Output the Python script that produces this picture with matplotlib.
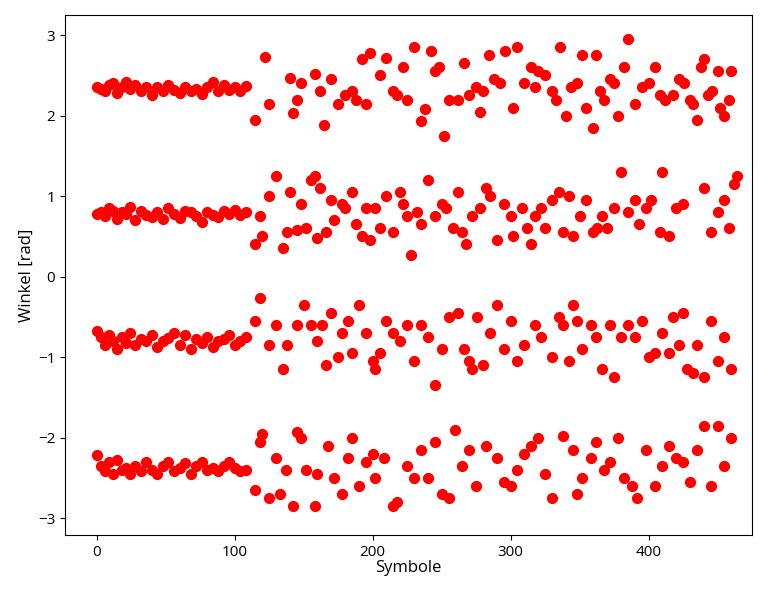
import matplotlib
matplotlib.use("Agg")
import matplotlib.pyplot as plt

early_x = [0,3,6,9,12,15,18,21,24,28,32,36,40,44,48,52,56,60,64,68,72,76,80,84,88,92,96,100,104,108]
a_early = [2.35,2.33,2.3,2.38,2.4,2.28,2.36,2.42,2.33,2.38,2.3,2.36,2.25,2.35,2.3,2.38,2.32,2.28,2.35,2.3,2.33,2.27,2.36,2.42,2.3,2.38,2.32,2.35,2.3,2.37]
b_early = [0.78,0.8,0.75,0.85,0.82,0.72,0.8,0.78,0.86,0.7,0.82,0.77,0.74,0.8,0.72,0.85,0.78,0.73,0.82,0.8,0.75,0.68,0.8,0.77,0.74,0.82,0.78,0.83,0.76,0.8]
c_early = [-0.68,-0.75,-0.85,-0.72,-0.8,-0.9,-0.75,-0.82,-0.7,-0.85,-0.78,-0.8,-0.72,-0.88,-0.8,-0.76,-0.7,-0.85,-0.72,-0.9,-0.78,-0.82,-0.75,-0.88,-0.8,-0.78,-0.72,-0.85,-0.8,-0.75]
d_early = [-2.22,-2.35,-2.42,-2.3,-2.45,-2.28,-2.4,-2.38,-2.45,-2.35,-2.42,-2.3,-2.4,-2.45,-2.35,-2.3,-2.42,-2.38,-2.32,-2.45,-2.35,-2.3,-2.4,-2.38,-2.42,-2.35,-2.3,-2.38,-2.42,-2.4]

a_late = [(115,1.95),(122,2.73),(125,2.15),(140,2.47),(142,2.03),(145,2.2),(148,2.4),(158,2.52),(162,2.3),(165,1.88),(170,2.45),(175,2.15),(180,2.25),(185,2.3),(188,2.2),(192,2.7),(195,2.15),(198,2.78),(205,2.5),(210,2.72),(215,2.3),(218,2.25),(222,2.6),(225,2.2),(230,2.85),(235,1.93),(238,2.08),(242,2.8),(245,2.55),(248,2.6),(252,1.75),(255,2.2),(262,2.2),(266,2.65),(270,2.25),(275,2.35),(278,2.05),(280,2.3),(284,2.75),(288,2.45),(292,2.4),(296,2.8),(302,2.1),(305,2.85),(310,2.4),(315,2.6),(318,2.35),(320,2.55),(325,2.5),(330,2.3),(333,2.2),(336,2.85),(340,2.0),(344,2.35),(348,2.4),(352,2.75),(355,2.1),(360,1.85),(362,2.75),(365,2.3),(368,2.2),(372,2.45),(375,2.4),(378,2.0),(382,2.6),(385,2.95),(390,2.15),(395,2.35),(400,2.4),(405,2.6),(408,2.25),(412,2.2),(418,2.25),(422,2.45),(426,2.4),(430,2.2),(432,2.15),(435,1.95),(438,2.6),(440,2.7),(443,2.25),(446,2.3),(450,2.55),(452,2.1),(455,2.0),(458,2.2),(460,2.55)]
b_late = [(115,0.4),(118,0.75),(120,0.5),(125,1.0),(130,1.25),(135,0.35),(138,0.55),(140,1.05),(145,0.58),(148,0.9),(152,0.6),(155,1.2),(158,1.25),(160,0.48),(162,1.1),(166,0.55),(170,0.95),(172,0.7),(178,0.9),(180,0.85),(185,1.05),(188,0.65),(192,0.5),(195,0.85),(198,0.45),(202,0.85),(205,0.6),(210,1.0),(215,0.55),(220,1.05),(222,0.9),(225,0.75),(228,0.27),(232,0.8),(235,0.65),(240,1.2),(245,0.75),(250,0.9),(253,0.85),(258,0.6),(262,1.05),(265,0.55),(268,0.4),(272,0.75),(278,0.85),(282,1.1),(285,1.0),(290,0.45),(295,0.9),(300,0.75),(302,0.5),(308,0.85),(312,0.6),(315,0.4),(318,0.75),(322,0.85),(325,0.6),(330,0.95),(335,1.05),(338,0.55),(342,1.0),(345,0.5),(350,0.75),(355,0.95),(360,0.55),(363,0.6),(366,0.75),(370,0.6),(375,0.85),(380,1.3),(385,0.8),(390,0.95),(393,0.65),(398,0.85),(402,0.95),(408,0.55),(410,1.3),(415,0.5),(420,0.85),(425,0.9),(440,1.1),(445,0.55),(450,0.8),(455,0.95),(458,0.6),(462,1.15),(464,1.25)]
c_late = [(115,-0.55),(118,-0.27),(125,-0.85),(130,-0.6),(135,-1.15),(138,-0.85),(145,-0.6),(150,-0.35),(155,-0.6),(160,-0.8),(163,-0.6),(166,-1.1),(170,-0.45),(175,-1.0),(178,-0.7),(182,-0.55),(185,-0.95),(190,-0.35),(195,-0.7),(200,-1.05),(202,-1.15),(205,-0.95),(210,-0.55),(215,-0.7),(220,-0.8),(225,-0.6),(230,-1.05),(235,-0.6),(240,-0.75),(245,-1.35),(250,-0.9),(255,-0.5),(262,-0.45),(266,-0.9),(270,-1.05),(272,-1.15),(276,-0.5),(280,-1.1),(285,-0.7),(290,-0.35),(295,-0.9),(300,-0.55),(305,-1.05),(310,-0.85),(318,-0.6),(322,-0.75),(330,-1.0),(335,-0.5),(338,-0.6),(342,-1.05),(345,-0.35),(348,-0.55),(352,-0.9),(358,-0.6),(362,-0.75),(366,-1.15),(372,-0.6),(375,-1.25),(380,-0.75),(385,-0.6),(390,-0.75),(395,-0.55),(400,-1.0),(405,-0.95),(410,-0.7),(415,-0.95),(418,-0.5),(422,-0.85),(425,-0.45),(428,-1.15),(432,-1.2),(435,-0.85),(440,-1.25),(445,-0.55),(450,-1.05),(455,-0.75),(460,-1.15)]
d_late = [(115,-2.65),(118,-2.05),(120,-1.95),(125,-2.75),(130,-2.25),(133,-2.7),(137,-2.4),(142,-2.85),(145,-1.93),(148,-2.0),(152,-2.4),(158,-2.85),(160,-2.45),(168,-2.1),(172,-2.5),(178,-2.7),(182,-2.25),(185,-2.0),(190,-2.6),(195,-2.3),(200,-2.2),(202,-2.5),(208,-2.25),(215,-2.85),(218,-2.8),(225,-2.35),(230,-2.5),(235,-2.15),(240,-2.5),(245,-2.05),(250,-2.7),(255,-2.75),(260,-1.9),(265,-2.35),(270,-2.15),(275,-2.6),(282,-2.1),(290,-2.25),(295,-2.55),(300,-2.6),(305,-2.4),(310,-2.2),(315,-2.1),(320,-2.0),(325,-2.45),(330,-2.75),(338,-1.98),(345,-2.15),(348,-2.7),(352,-2.5),(358,-2.25),(362,-2.05),(368,-2.4),(372,-2.3),(378,-2.0),(382,-2.5),(388,-2.6),(392,-2.75),(398,-2.15),(405,-2.6),(410,-2.35),(415,-2.1),(420,-2.25),(425,-2.3),(430,-2.55),(435,-2.15),(440,-1.85),(445,-2.6),(450,-1.85),(455,-2.35),(460,-2.0)]

plt.rcParams['font.family'] = ['Open Sans', 'DejaVu Sans']
fig = plt.figure(figsize=(7.81, 5.97), dpi=100)
ax = fig.add_axes([65/781, 62/597, 687/781, 520/597])
for ys in (a_early, b_early, c_early, d_early):
    ax.scatter(early_x, ys, s=50, c='red')
for late in (a_late, b_late, c_late, d_late):
    ax.scatter([p[0] for p in late], [p[1] for p in late], s=50, c='red')
ax.set_xlim(-23, 475)
ax.set_ylim(-3.21, 3.25)
ax.set_xticks([0, 100, 200, 300, 400])
ax.set_yticks([-3, -2, -1, 0, 1, 2, 3])
ax.tick_params(labelsize=11)
ax.set_xlabel('Symbole', fontsize=12, labelpad=0)
ax.set_ylabel('Winkel [rad]', fontsize=12, labelpad=2)
fig.savefig('out.png', dpi=100)
